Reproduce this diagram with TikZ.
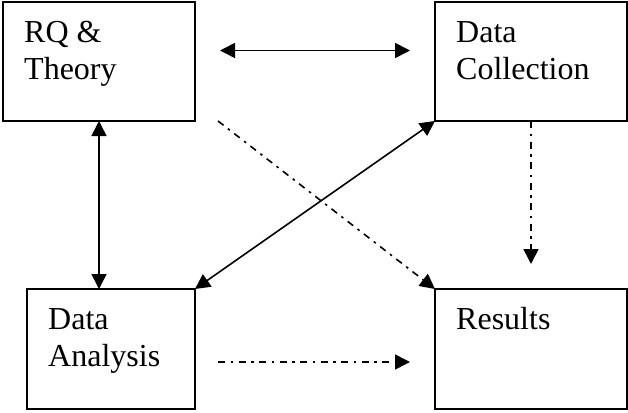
\documentclass[tikz,border=0pt]{standalone}
\usepackage{fontspec}
\setmainfont{Liberation Serif}
\usetikzlibrary{arrows.meta}
\begin{document}
\begin{tikzpicture}[x=1pt,y=-1pt,
  box/.style={draw,line width=1.5pt,rectangle,inner sep=0pt,outer sep=0pt},
  lbl/.style={anchor=base west,inner sep=0pt,font=\fontsize{32}{36}\selectfont},
  conn/.style={line width=1.6pt},
  both/.style={conn,{Triangle[length=15pt,width=15pt]}-{Triangle[length=15pt,width=15pt]}},
  dd/.style={conn,dash pattern=on 7pt off 5.5pt on 2.5pt off 5.5pt,-{Triangle[length=15pt,width=15pt]}}]
\useasboundingbox (0,0) rectangle (628,412);
\node[box,minimum width=192pt,minimum height=119pt] (rq) at (99,61.5) {};
\node[box,minimum width=192pt,minimum height=119pt] (dc) at (531,61.5) {};
\node[box,minimum width=168pt,minimum height=120pt] (da) at (111,349) {};
\node[box,minimum width=192pt,minimum height=120pt] (res) at (531,349) {};
\node[lbl] (rq1) at ([shift={(21pt,-41pt)}]rq.north west) {RQ \&};
\node[lbl] (rq2) at ([shift={(21pt,-77pt)}]rq.north west) {Theory};
\node[lbl] (dc1) at ([shift={(21pt,-41pt)}]dc.north west) {Data};
\node[lbl] (dc2) at ([shift={(21pt,-77pt)}]dc.north west) {Collection};
\node[lbl] (da1) at ([shift={(21pt,-40pt)}]da.north west) {Data};
\node[lbl] (da2) at ([shift={(21pt,-77pt)}]da.north west) {Analysis};
\node[lbl] (res1) at ([shift={(21pt,-40pt)}]res.north west) {Results};
\draw[both] ([shift={(25pt,11pt)}]rq.east) -- ([shift={(-25pt,11pt)}]dc.west);
\draw[both] (rq.south) -- (rq.south |- da.north);
\draw[both] (da.north east) -- (dc.south west);
\draw[dd] ([xshift=23pt]rq.south east) -- (res.north west);
\draw[dd] (dc.south) -- ([yshift=25pt]res.north);
\draw[dd] ([shift={(23pt,-13pt)}]da.east) -- ([shift={(-25pt,-13pt)}]res.west);
\end{tikzpicture}
\end{document}
